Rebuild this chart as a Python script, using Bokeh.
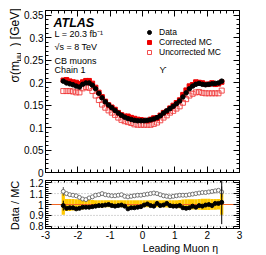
import numpy as np
from bokeh.plotting import figure
from bokeh.models import (Range1d, LinearAxis, SingleIntervalTicker, CustomJSTickFormatter,
                          Label, Legend, LegendItem, Span)
from bokeh.layouts import column, row
from bokeh.embed import file_html
from bokeh.resources import INLINE

# ---------------- data ----------------
eta = [-2.45, -2.35, -2.25, -2.15, -2.05, -1.95, -1.85, -1.75, -1.65, -1.55,
       -1.45, -1.35, -1.25, -1.15, -1.05, -0.95, -0.85, -0.75, -0.65, -0.55,
       -0.45, -0.35, -0.25, -0.15, -0.05, 0.05, 0.15, 0.25, 0.35, 0.45,
       0.55, 0.65, 0.75, 0.85, 0.95, 1.05, 1.15, 1.25, 1.35, 1.45,
       1.55, 1.65, 1.75, 1.85, 1.95, 2.05, 2.15, 2.25, 2.35, 2.45]

data = [0.203, 0.199, 0.197, 0.195, 0.192, 0.190, 0.196, 0.199, 0.199, 0.194,
        0.186, 0.176, 0.166, 0.157, 0.150, 0.144, 0.138, 0.132, 0.127, 0.123,
        0.120, 0.118, 0.116, 0.115, 0.115, 0.115, 0.116, 0.117, 0.119, 0.122,
        0.126, 0.132, 0.137, 0.142, 0.147, 0.153, 0.159, 0.168, 0.177, 0.186,
        0.192, 0.196, 0.198, 0.196, 0.195, 0.196, 0.197, 0.198, 0.199, 0.203]

data_err = [0.004, 0.003, 0.002, 0.002, 0.002, 0.002, 0.002, 0.002, 0.002, 0.002,
            0.001, 0.001, 0.001, 0.001, 0.001, 0.001, 0.001, 0.001, 0.001, 0.001,
            0.001, 0.001, 0.001, 0.001, 0.001, 0.001, 0.001, 0.001, 0.001, 0.001,
            0.001, 0.001, 0.001, 0.001, 0.001, 0.001, 0.001, 0.001, 0.001, 0.001,
            0.002, 0.002, 0.002, 0.002, 0.002, 0.002, 0.002, 0.002, 0.003, 0.005]

corrected_mc = [0.205, 0.206, 0.203, 0.201, 0.200, 0.197, 0.201, 0.204, 0.204, 0.198,
                0.189, 0.178, 0.168, 0.158, 0.150, 0.145, 0.140, 0.133, 0.128, 0.125,
                0.125, 0.122, 0.120, 0.118, 0.117, 0.116, 0.115, 0.118, 0.121, 0.121,
                0.127, 0.133, 0.136, 0.143, 0.149, 0.155, 0.161, 0.173, 0.183, 0.192,
                0.195, 0.201, 0.200, 0.199, 0.196, 0.196, 0.199, 0.196, 0.197, 0.201]

uncorrected_mc = [0.181, 0.181, 0.181, 0.180, 0.178, 0.178, 0.187, 0.190, 0.188, 0.181,
                  0.171, 0.161, 0.151, 0.144, 0.138, 0.133, 0.128, 0.122, 0.117, 0.114,
                  0.112, 0.110, 0.107, 0.106, 0.106, 0.106, 0.106, 0.106, 0.108, 0.111,
                  0.116, 0.122, 0.127, 0.133, 0.137, 0.142, 0.147, 0.155, 0.163, 0.171,
                  0.175, 0.178, 0.179, 0.177, 0.176, 0.176, 0.176, 0.176, 0.176, 0.182]

ratio_corr = [0.99, 0.965, 0.97, 0.97, 0.96, 0.965, 0.975, 0.975, 0.975, 0.98,
              0.985, 0.99, 0.99, 0.995, 1.0, 0.99, 0.985, 0.99, 0.995, 0.985,
              0.96, 0.97, 0.97, 0.975, 0.98, 0.995, 1.005, 0.99, 0.985, 1.01,
              0.99, 0.995, 1.01, 0.99, 0.985, 0.985, 0.99, 0.97, 0.965, 0.97,
              0.985, 0.975, 0.99, 0.985, 0.995, 1.0, 0.99, 1.01, 1.01, 1.02]

ratio_corr_err = [0.045, 0.012, 0.010, 0.010, 0.008, 0.008, 0.006, 0.006, 0.006, 0.006,
                  0.005, 0.005, 0.005, 0.005, 0.005, 0.005, 0.005, 0.005, 0.005, 0.005,
                  0.005, 0.005, 0.005, 0.005, 0.005, 0.005, 0.005, 0.005, 0.005, 0.005,
                  0.005, 0.005, 0.005, 0.005, 0.005, 0.005, 0.005, 0.005, 0.005, 0.005,
                  0.006, 0.006, 0.006, 0.006, 0.006, 0.008, 0.008, 0.010, 0.012, 0.200]

ratio_uncorr = [1.12, 1.10, 1.09, 1.085, 1.08, 1.065, 1.05, 1.045, 1.06, 1.07,
                1.085, 1.09, 1.10, 1.09, 1.085, 1.08, 1.08, 1.085, 1.09, 1.075,
                1.07, 1.075, 1.08, 1.085, 1.085, 1.09, 1.095, 1.10, 1.105, 1.10,
                1.09, 1.08, 1.075, 1.07, 1.075, 1.08, 1.085, 1.085, 1.085, 1.09,
                1.095, 1.10, 1.105, 1.11, 1.11, 1.115, 1.12, 1.125, 1.13, 1.115]

ratio_uncorr_err = [0.040, 0.012, 0.010, 0.010, 0.008, 0.008, 0.006, 0.006, 0.006, 0.006,
                    0.005, 0.005, 0.005, 0.005, 0.005, 0.005, 0.005, 0.005, 0.005, 0.005,
                    0.005, 0.005, 0.005, 0.005, 0.005, 0.005, 0.005, 0.005, 0.005, 0.005,
                    0.005, 0.005, 0.005, 0.005, 0.005, 0.005, 0.005, 0.005, 0.005, 0.005,
                    0.006, 0.006, 0.006, 0.006, 0.006, 0.008, 0.008, 0.010, 0.012, 0.050]

band_lo = [0.905, 0.94, 0.94, 0.945, 0.945, 0.955, 0.955, 0.96, 0.96, 0.965,
           0.97, 0.972, 0.972, 0.975, 0.975, 0.975, 0.975, 0.975, 0.975, 0.975,
           0.972, 0.972, 0.975, 0.975, 0.975, 0.975, 0.975, 0.975, 0.975, 0.975,
           0.975, 0.975, 0.972, 0.972, 0.97, 0.97, 0.965, 0.955, 0.952, 0.952,
           0.955, 0.955, 0.952, 0.95, 0.95, 0.95, 0.952, 0.952, 0.955, 0.905]

band_hi = [1.10, 1.05, 1.05, 1.05, 1.048, 1.045, 1.045, 1.045, 1.045, 1.042,
           1.04, 1.04, 1.04, 1.038, 1.038, 1.038, 1.038, 1.038, 1.038, 1.038,
           1.04, 1.04, 1.038, 1.038, 1.038, 1.038, 1.038, 1.038, 1.038, 1.038,
           1.038, 1.038, 1.04, 1.04, 1.04, 1.04, 1.042, 1.045, 1.048, 1.048,
           1.048, 1.048, 1.05, 1.052, 1.052, 1.052, 1.05, 1.05, 1.05, 1.12]

x_ticks_interval = 1
y_top_interval = 0.05
y_bot_interval = 0.1

# ---------------- styling helpers ----------------
FONT = "Liberation Sans"
HALF = 0.05
fmt_code = ("var s = tick.toFixed(2); s = s.replace(/0+$/, ''); "
            "s = s.replace(/\\.$/, ''); if (s == '-0') { s = '0'; } return s;")


def make_axis(interval, show, tick_len=5, minor_len=3):
    code = fmt_code if show else "return '';"
    ax = LinearAxis(ticker=SingleIntervalTicker(interval=interval, num_minor_ticks=5),
                    formatter=CustomJSTickFormatter(code=code))
    ax.axis_line_color = None
    ax.major_tick_in = tick_len
    ax.major_tick_out = 0
    ax.minor_tick_in = minor_len
    ax.minor_tick_out = 0
    ax.major_tick_line_color = "black"
    ax.minor_tick_line_color = "black"
    ax.major_label_text_font = FONT
    ax.major_label_text_color = "black"
    if show:
        ax.major_label_text_font_size = "10px"
        ax.major_label_standoff = 2
    else:
        ax.major_label_text_font_size = "1px"
        ax.major_label_standoff = 0
    return ax


def style_fig(p):
    p.grid.visible = False
    p.outline_line_color = "black"
    p.outline_line_width = 1
    p.background_fill_color = "white"
    p.border_fill_color = "white"


def blank_fig(w, h):
    f = figure(width=w, height=h, x_range=Range1d(0, w), y_range=Range1d(0, h),
               output_backend="svg", toolbar_location=None,
               x_axis_location=None, y_axis_location=None,
               min_border_left=0, min_border_right=0, min_border_top=0, min_border_bottom=0)
    f.grid.visible = False
    f.outline_line_color = None
    f.background_fill_color = "white"
    f.border_fill_color = "white"
    return f


def add_label(p, x, y, text, size, style="normal", align="left", angle=0.0,
              baseline="middle"):
    p.add_layout(Label(x=x, y=y, text=text, text_font=FONT, text_font_size=size,
                       text_font_style=style, text_align=align, text_baseline=baseline,
                       angle=angle, text_color="black"))


LW = 21          # width of the strip holding the rotated y titles
PW = 266 - LW    # width of the plot column
BL, BR = 23, 27  # left / right borders of the plot panels

# ---------------- top panel ----------------
p1 = figure(width=PW, height=178, x_range=Range1d(-3, 3), y_range=Range1d(0, 0.36),
            output_backend="svg", toolbar_location=None,
            x_axis_location=None, y_axis_location=None,
            min_border_left=BL, min_border_right=BR, min_border_top=10, min_border_bottom=6)
style_fig(p1)
p1.add_layout(make_axis(y_top_interval, True, 6, 3), "left")
p1.add_layout(make_axis(y_top_interval, False, 6, 3), "right")
p1.add_layout(make_axis(x_ticks_interval, False, 6, 3), "below")
p1.add_layout(make_axis(x_ticks_interval, False, 6, 3), "above")

r_unc = p1.scatter(eta, uncorrected_mc, marker="square", size=5, fill_color=None,
                   line_color="#f03a3a", line_width=0.9)
r_cor = p1.scatter(eta, corrected_mc, marker="square", size=4.5, fill_color="#ee0000",
                   line_color="#ee0000")
d_lo = [v - e for v, e in zip(data, data_err)]
d_hi = [v + e for v, e in zip(data, data_err)]
p1.segment(eta, d_lo, eta, d_hi, line_color="black", line_width=1)
r_dat = p1.scatter(eta, data, marker="circle", size=4.5, fill_color="black", line_color="black")

legend = Legend(items=[LegendItem(label="Data", renderers=[r_dat]),
                       LegendItem(label="Corrected MC", renderers=[r_cor]),
                       LegendItem(label="Uncorrected MC", renderers=[r_unc])],
                location=(98, 115), orientation="vertical",
                padding=0, margin=0, spacing=0, label_standoff=4,
                glyph_width=12, glyph_height=10, label_height=10,
                label_text_font=FONT, label_text_font_size="8.5px",
                label_text_color="black",
                border_line_color=None, background_fill_alpha=0)
p1.add_layout(legend)

add_label(p1, -2.754, 0.3322, "ATLAS", "12.5px", style="bold italic")
add_label(p1, -2.72, 0.3078, "L = 20.3 fb\u207b\u00b9", "9px")
add_label(p1, -2.72, 0.2789, "\u221as = 8 TeV", "9px")
add_label(p1, -2.72, 0.2478, "CB muons", "9px")
add_label(p1, -2.72, 0.2267, "Chain 1", "9px")
add_label(p1, 0.63, 0.2282, "\u03d2", "9px", align="center")

# ---------------- ratio panel ----------------
p2 = figure(width=PW, height=64, x_range=Range1d(-3, 3), y_range=Range1d(0.78, 1.22),
            output_backend="svg", toolbar_location=None,
            x_axis_location=None, y_axis_location=None,
            min_border_left=BL, min_border_right=BR, min_border_top=2, min_border_bottom=14)
style_fig(p2)
p2.add_layout(make_axis(y_bot_interval, True, 6, 3), "left")
p2.add_layout(make_axis(y_bot_interval, False, 6, 3), "right")
p2.add_layout(make_axis(x_ticks_interval, True, 4, 2), "below")
p2.add_layout(make_axis(x_ticks_interval, False, 4, 2), "above")

left = [e - HALF for e in eta]
right = [e + HALF for e in eta]
p2.quad(left=left, right=right, bottom=band_lo, top=band_hi, fill_color="#ffc800",
        line_color=None, level="image")

for lvl in (0.8, 0.9, 1.1, 1.2):
    p2.add_layout(Span(location=lvl, dimension="width", line_color="#aaaaaa",
                       line_width=1, line_dash="1 2", level="underlay"))
p2.add_layout(Span(location=1.0, dimension="width", line_color="#f26522",
                   line_width=1.2, level="underlay"))

u_lo = [v - e for v, e in zip(ratio_uncorr, ratio_uncorr_err)]
u_hi = [v + e for v, e in zip(ratio_uncorr, ratio_uncorr_err)]
p2.segment(eta, u_lo, eta, u_hi, line_color="#555555", line_width=1)
p2.scatter(eta, ratio_uncorr, marker="circle", size=4, fill_color="white",
           line_color="#555555", line_width=0.8)

c_lo = [v - e for v, e in zip(ratio_corr, ratio_corr_err)]
c_hi = [v + e for v, e in zip(ratio_corr, ratio_corr_err)]
p2.segment(eta, c_lo, eta, c_hi, line_color="black", line_width=1)
p2.scatter(eta, ratio_corr, marker="circle", size=4, fill_color="black", line_color="black")

# ---------------- strip below with the x-axis title ----------------
pb = blank_fig(PW, 13)
add_label(pb, PW - BR, 7.5, "Leading Muon \u03b7", "10.5px", align="right")

# ---------------- strip with rotated y-axis titles ----------------
pl = blank_fig(LW, 255)
add_label(pl, 14, 173, "\u03c3(m", "12px", angle=np.pi / 2)
add_label(pl, 17.5, 194, "\u03bc\u03bc", "8px", angle=np.pi / 2)
add_label(pl, 14, 247, ") [GeV]", "12px", align="right", angle=np.pi / 2)
add_label(pl, 14, 50, "Data / MC", "11px", align="center", angle=np.pi / 2)

layout = row(pl, column(p1, p2, pb, spacing=0), spacing=0)
open("out.html", "w").write(file_html(layout, INLINE))
